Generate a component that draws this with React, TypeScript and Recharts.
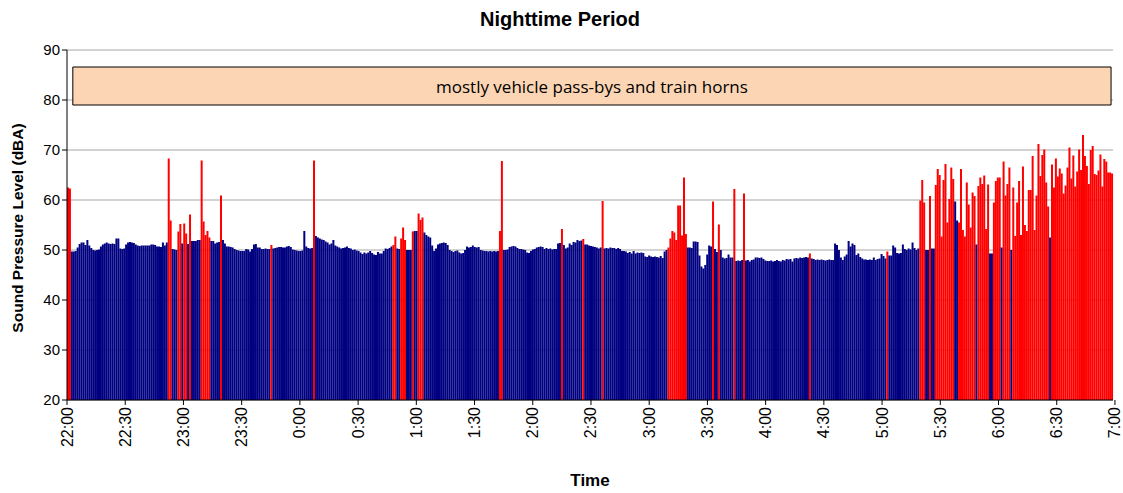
import React from 'react';
import { BarChart, Bar, Cell, XAxis, YAxis, CartesianGrid, ReferenceArea, ReferenceLine } from 'recharts';

// One-minute sound pressure levels (dBA) from 22:00 to 7:00
const levels: number[] = [
  62.5,62.3,49.7,49.7,49.8,50.5,51.2,51.5,51.5,51.0,
  52.0,50.9,50.4,50.0,49.9,50.0,50.1,50.7,51.1,51.3,
  51.5,51.3,51.2,51.3,51.2,52.3,52.3,50.3,50.2,50.3,
  51.1,51.5,51.6,51.5,51.4,51.1,50.9,50.8,50.9,50.9,
  50.9,50.9,50.9,51.1,51.1,51.0,50.7,50.7,50.6,51.5,
  50.9,51.5,68.3,55.9,50.2,50.1,50.0,53.7,55.2,51.3,
  55.3,53.3,51.2,57.1,51.8,51.8,51.8,52.0,52.0,67.9,
  55.7,53.0,53.8,52.5,51.8,51.8,51.3,51.5,51.6,60.9,
  52.0,51.3,50.7,50.7,50.6,50.5,50.2,50.0,49.9,49.8,
  49.8,49.8,50.2,50.1,49.7,50.2,51.1,51.2,50.5,50.5,
  50.2,50.2,50.3,50.2,50.2,51.0,50.3,50.4,50.5,50.6,
  50.6,50.5,50.5,50.7,50.8,50.6,50.1,50.0,49.9,49.8,
  49.8,49.9,53.8,50.7,50.4,50.3,50.4,67.9,52.8,52.5,
  52.3,52.1,52.0,51.7,51.5,51.1,51.3,52.0,50.9,50.7,
  50.5,50.3,50.4,50.5,50.7,50.4,50.3,50.0,50.1,49.9,
  49.8,49.5,49.2,49.5,49.3,49.5,49.8,49.4,49.1,49.0,
  49.6,49.3,49.3,49.8,50.3,50.2,50.4,50.7,51.0,52.7,
  50.3,50.2,52.3,54.5,52.0,50.0,50.0,50.0,53.7,53.8,
  53.8,57.3,56.0,56.5,53.5,53.0,52.7,52.5,50.9,49.8,
  50.3,51.1,51.3,51.4,51.5,51.4,51.0,50.0,49.8,49.6,
  49.8,49.9,49.5,49.3,49.4,50.0,50.7,50.5,50.6,50.9,
  50.6,50.5,50.6,50.0,49.9,49.8,49.8,49.7,49.8,49.7,
  49.8,49.7,49.8,53.8,67.8,50.0,50.0,50.1,50.6,50.7,
  50.8,50.7,50.4,50.2,50.2,50.1,50.0,49.5,49.4,49.8,
  50.1,50.2,50.5,50.6,50.7,50.6,50.2,50.4,50.2,50.3,
  50.1,50.2,50.2,51.3,51.4,54.2,51.0,50.3,50.5,51.3,
  51.0,51.6,51.5,52.0,51.8,51.9,52.2,51.1,51.1,50.9,
  50.8,50.7,50.6,50.5,50.3,50.5,59.8,50.3,50.4,50.3,
  50.5,50.4,50.4,50.2,50.4,50.2,49.8,49.8,49.7,49.4,
  49.6,49.3,49.8,49.3,49.5,49.4,49.5,49.4,48.7,48.6,
  48.9,48.7,48.6,48.7,48.6,48.5,48.8,48.4,49.7,50.0,
  50.5,52.3,53.8,53.5,52.0,58.9,58.9,52.9,64.5,53.2,
  50.5,50.5,50.4,51.7,51.7,51.6,48.9,46.7,46.3,47.0,
  49.1,50.9,50.7,59.7,50.2,49.6,55.1,50.0,48.5,48.3,
  48.4,49.1,48.5,48.5,62.2,47.8,47.9,47.8,48.0,61.3,
  47.9,48.0,47.7,48.0,48.1,48.5,48.5,48.4,48.5,48.2,
  47.9,47.8,47.8,47.9,47.7,47.8,48.0,47.8,47.7,48.0,
  47.9,48.2,48.1,48.2,47.7,48.3,48.4,48.3,48.5,48.4,
  48.5,48.6,48.5,49.3,48.3,48.2,48.0,48.1,48.0,48.1,
  48.0,47.9,48.0,48.1,48.0,48.0,51.3,51.0,50.0,48.5,
  48.0,48.7,49.1,51.8,50.7,51.3,51.0,49.0,49.3,48.6,
  48.3,48.1,48.1,48.0,48.1,48.0,48.5,48.0,48.2,48.3,
  49.2,48.8,48.3,49.7,48.9,48.9,50.9,50.5,49.4,49.3,
  49.4,51.1,50.2,50.0,50.3,50.1,51.5,50.4,50.0,50.3,
  59.9,64.0,59.5,50.0,50.0,60.8,50.3,50.3,63.0,66.2,
  65.0,52.7,64.0,67.2,55.5,60.2,66.5,64.2,59.7,55.9,
  55.5,66.2,54.0,52.7,63.5,59.1,54.5,61.5,60.8,51.1,
  62.8,64.5,63.2,64.9,54.2,63.1,49.3,49.3,59.5,63.8,
  64.5,64.5,50.5,67.7,60.9,63.2,66.5,50.0,62.5,52.8,
  59.5,63.8,53.0,66.7,55.0,53.8,62.0,62.0,68.8,54.0,
  60.9,71.2,64.8,69.0,70.1,63.5,58.7,52.5,67.1,62.5,
  68.3,64.7,66.3,65.3,61.3,62.9,66.5,70.5,64.3,68.9,
  62.7,65.7,70.1,66.0,73.0,68.8,66.8,63.2,70.0,70.8,
  65.2,65.0,65.9,69.1,62.7,68.2,67.7,65.5,65.5,65.3,
];

// Minutes containing a noise event (drawn in red)
const eventMinutes: number[] = [
  0,1,52,53,57,58,60,61,63,69,70,71,72,73,79,105,127,168,169,172,173,174,178,181,182,183,
  223,224,255,266,276,310,311,312,313,314,315,316,317,318,319,333,336,344,349,383,423,
  440,441,442,445,448,449,450,451,452,453,454,455,456,457,
  460,461,462,463,464,465,466,467,468,470,471,472,473,474,475,478,479,480,481,
  483,484,485,486,488,489,490,491,492,493,494,495,496,497,498,499,500,501,502,503,504,505,506,
  508,509,510,511,512,513,514,515,516,517,518,519,520,521,522,523,524,525,526,527,528,529,
  530,531,532,533,534,535,536,537,538,539,
];

const timeLabels: string[] = [
  '22:00','22:30','23:00','23:30','0:00','0:30','1:00','1:30','2:00','2:30',
  '3:00','3:30','4:00','4:30','5:00','5:30','6:00','6:30','7:00',
];
const minutesPerLabel = 30;
const yTicks: number[] = [20, 30, 40, 50, 60, 70, 80, 90];

const annotationText = 'mostly vehicle pass-bys and train horns';
const annotationLow = 79;
const annotationHigh = 86.6;
const annotationStart = 3;
const annotationEnd = 538;

const NAVY = '#000080';
const RED = '#ff0000';
const FONT = '"Liberation Sans", Arial, sans-serif';

const eventSet = new Set(eventMinutes);
const rows = levels.map((v, i) => ({ minute: i, level: v, event: eventSet.has(i) }));
const timeTicks = timeLabels.map((_, i) => i * minutesPerLabel);
const totalMinutes = (timeLabels.length - 1) * minutesPerLabel;

const TimeTick = (props: any) => {
  const { x, y, payload } = props;
  const label = timeLabels[Math.round(payload.value / minutesPerLabel)];
  return (
    <text
      x={x}
      y={y}
      transform={`rotate(-90 ${x} ${y})`}
      textAnchor="end"
      dominantBaseline="central"
      fontFamily={FONT}
      fontSize={16}
      fill="#000"
    >
      {label}
    </text>
  );
};

const AnnotationLabel = (props: any) => {
  const { viewBox } = props;
  if (!viewBox) return null;
  return (
    <text
      x={viewBox.x + viewBox.width / 2}
      y={viewBox.y + viewBox.height / 2}
      textAnchor="middle"
      dominantBaseline="central"
      fontFamily='"Open Sans", sans-serif'
      fontSize={17}
      fill="#000"
    >
      {annotationText}
    </text>
  );
};

export default function App() {
  return (
    <div style={{ position: 'absolute', left: 0, top: 0, width: 1123, height: 493, background: '#fff', fontFamily: FONT }}>
      <div style={{ position: 'absolute', left: 560, top: 19, transform: 'translate(-50%, -50%)', whiteSpace: 'nowrap', fontWeight: 'bold', fontSize: 20 }}>
        Nighttime Period
      </div>
      <div style={{ position: 'absolute', left: 18, top: 228, transform: 'translate(-50%, -50%) rotate(-90deg)', whiteSpace: 'nowrap', fontWeight: 'bold', fontSize: 15.5 }}>
        Sound Pressure Level (dBA)
      </div>
      <div style={{ position: 'absolute', left: 590, top: 481, transform: 'translate(-50%, -50%)', whiteSpace: 'nowrap', fontWeight: 'bold', fontSize: 17 }}>
        Time
      </div>
      <BarChart
        width={1123}
        height={493}
        data={rows}
        margin={{ top: 50, right: 10, left: 10, bottom: 33 }}
        barCategoryGap={0}
        barGap={0}
      >
        <CartesianGrid vertical={false} stroke="#a6a6a6" strokeWidth={1} />
        <XAxis xAxisId="bars" dataKey="minute" type="category" hide height={0} />
        <XAxis
          xAxisId="time"
          type="number"
          domain={[0, totalMinutes]}
          allowDataOverflow
          ticks={timeTicks}
          interval={0}
          height={60}
          tick={<TimeTick />}
          tickLine={{ stroke: '#000' }}
          tickSize={5}
          axisLine={{ stroke: '#000' }}
        />
        <YAxis
          type="number"
          domain={[20, 90]}
          ticks={yTicks}
          interval={0}
          allowDataOverflow
          width={57}
          tick={{ fontFamily: FONT, fontSize: 15, fill: '#000' }}
          tickLine={{ stroke: '#000' }}
          tickSize={5}
          axisLine={{ stroke: '#000' }}
        />
        <ReferenceLine xAxisId="time" x={totalMinutes} stroke="#a6a6a6" />
        <Bar xAxisId="bars" dataKey="level" isAnimationActive={false}>
          {rows.map((r) => (
            <Cell key={r.minute} fill={r.event ? RED : NAVY} />
          ))}
        </Bar>
        <ReferenceArea
          xAxisId="time"
          x1={annotationStart}
          x2={annotationEnd}
          y1={annotationLow}
          y2={annotationHigh}
          fill="#fcd5b4"
          fillOpacity={1}
          stroke="#000"
          strokeWidth={1}
          label={<AnnotationLabel />}
        />
      </BarChart>
    </div>
  );
}
